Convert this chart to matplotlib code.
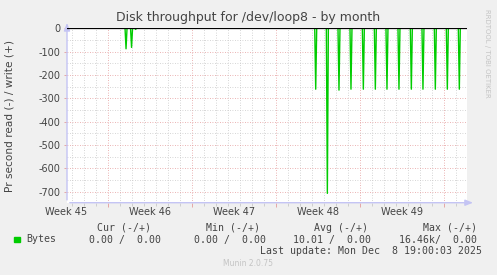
import matplotlib
matplotlib.use("Agg")
import matplotlib.pyplot as plt
import numpy as np

# ---- data (x in days from Sunday Nov 9 2025 00:00) ----
spike_days = [1.50, 1.96, 2.30, 17.31, 18.28, 19.25, 20.25, 21.28, 22.28, 23.25,
              24.25, 25.28, 26.25, 27.28, 28.28, 29.28]
spike_values = [-88, -82, -5, -261, -707, -265, -261, -261, -261, -261,
                -261, -261, -261, -261, -261, -261]
week_labels = ["Week 45", "Week 46", "Week 47", "Week 48", "Week 49"]
week_label_days = [-3.5, 3.5, 10.5, 17.5, 24.5]
week_bounds = [0, 7, 14, 21, 28]
y_ticks = [0, -100, -200, -300, -400, -500, -600, -700]
legend_headers = ["Cur (-/+)", "Min (-/+)", "Avg (-/+)", "Max (-/+)"]
legend_values = ["0.00 /  0.00", "0.00 /  0.00", "10.01 /  0.00", "16.46k/  0.00"]
series_name = "Bytes"
last_update = "Last update: Mon Dec  8 19:00:03 2025"

W, H = 497, 275
fig = plt.figure(figsize=(W / 100, H / 100), dpi=100)
fig.patch.set_facecolor("#F0F0F0")

def fx(px):
    return px / W

def fy(py):
    return 1 - py / H

left, right, top, bottom = 67, 467, 28, 202.7
ax = fig.add_axes([fx(left), fy(bottom), (right - left) / W, (bottom - top) / H])
ax.set_facecolor("white")
xmin, xmax = -3.42, 29.92
ax.set_xlim(xmin, xmax)
ax.set_ylim(-747, 1)

# grid
for d in np.arange(-3, 30, 1):
    if d not in week_bounds:
        ax.axvline(d, color="#c8c8c8", lw=0.6, ls=(0, (1, 2)), zorder=1)
for d in week_bounds:
    ax.axvline(d, color="#e49a9a", lw=0.6, ls=(0, (1, 2)), zorder=1)
for v in np.arange(-700, 1, 50):
    if v % 100 != 0:
        ax.axhline(v, color="#c8c8c8", lw=0.6, ls=(0, (1, 2)), zorder=1)
for v in y_ticks:
    ax.axhline(v, color="#e49a9a", lw=0.6, ls=(0, (1, 2)), zorder=1)

# data
hw = 1 / 12
xs, ys = [xmin], [0]
for t, v in zip(spike_days, spike_values):
    xs += [t - hw, t, t + hw]
    ys += [0, v, 0]
xs.append(xmax)
ys.append(0)
ax.plot(xs, ys, color="#00CC00", lw=1.0, zorder=3)
ax.axhline(0, color="black", lw=0.9, zorder=4)

# axes styling
for s in ax.spines.values():
    s.set_visible(False)
ax.set_xticks(week_bounds)
ax.set_xticklabels([])
ax.set_xticks(np.arange(-3, 30, 1), minor=True)
ax.tick_params(axis="x", which="major", length=3, color="#e49a9a", width=0.6)
ax.tick_params(axis="x", which="minor", length=2, color="#c8c8c8", width=0.6)
ax.set_yticks(y_ticks)
ax.set_yticklabels([str(v) for v in y_ticks])
ax.tick_params(axis="y", which="major", length=2, color="#e49a9a", width=0.6,
               labelsize=7, labelcolor="#444444", pad=3)

for lab, d in zip(week_labels, week_label_days):
    ax.text(d, -0.055, lab, transform=ax.get_xaxis_transform(), ha="center",
            va="center", fontsize=7, color="#444444", clip_on=False)

# axis lines with arrows
axis_col = "#c4c4f4"
ax.annotate("", xy=(0, 1.045), xytext=(0, 0), xycoords="axes fraction",
            arrowprops=dict(arrowstyle="-|>,head_width=0.18,head_length=0.45",
                            color=axis_col, lw=1.0), annotation_clip=False)
ax.annotate("", xy=(1.022, 0), xytext=(0, 0), xycoords="axes fraction",
            arrowprops=dict(arrowstyle="-|>,head_width=0.18,head_length=0.45",
                            color=axis_col, lw=1.0), annotation_clip=False)

# texts
fig.text(fx(248), fy(18), "Disk throughput for /dev/loop8 - by month",
         ha="center", va="center", fontsize=9, color="#444444")
fig.text(fx(10), fy(116), "Pr second read (-) / write (+)", rotation=90,
         ha="center", va="center", fontsize=7.6, color="#444444")
fig.text(fx(487), fy(53), "RRDTOOL / TOBI OETIKER", rotation=270,
         ha="center", va="center", fontsize=5, color="#c4c4c4")

mono = "DejaVu Sans Mono"
fs = 7.1
tc = "#444444"
header_right = [151, 260.3, 368.3, 476.7]
value_right = [161, 265.8, 371, 477]
for h, xr in zip(legend_headers, header_right):
    fig.text(fx(xr), fy(228), h, ha="right", va="center", fontsize=fs,
             family=mono, color=tc)
fig.patches.append(plt.Rectangle((fx(14), fy(242.3)), 6 / W, 5.6 / H,
                                 transform=fig.transFigure, color="#00CC00"))
fig.text(fx(26), fy(239.5), series_name, ha="left", va="center", fontsize=fs,
         family=mono, color=tc)
for v, xr in zip(legend_values, value_right):
    fig.text(fx(xr), fy(239.5), v, ha="right", va="center", fontsize=fs,
             family=mono, color=tc)
fig.text(fx(482.3), fy(251), last_update, ha="right", va="center", fontsize=fs,
         family=mono, color=tc)
fig.text(fx(248), fy(264), "Munin 2.0.75", ha="center", va="center",
         fontsize=5.5, color="#c4c4c4")

fig.savefig("out.png", dpi=100, facecolor=fig.get_facecolor())
